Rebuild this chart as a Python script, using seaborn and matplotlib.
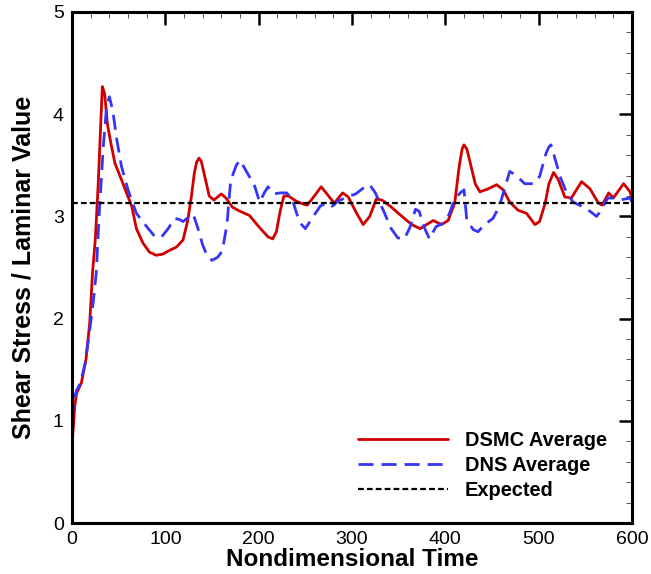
import numpy as np
import pandas as pd
import matplotlib
matplotlib.use("Agg")
import matplotlib.pyplot as plt
from matplotlib.ticker import MultipleLocator
import seaborn as sns

dsmc_t = [0, 3, 5, 10, 15, 19, 22, 25, 28, 32.5, 35, 38, 42, 46, 53, 58, 64, 69, 76, 83,
          90, 97, 105, 112, 119, 124, 128, 131, 133.5, 136, 138.5, 142.5, 147, 152, 160, 165, 172,
          180, 190, 201, 210, 215, 219, 223, 227, 232, 240, 248, 252, 258, 267, 274, 281,
          290, 296, 305, 312, 319, 326, 332, 341, 351, 360, 366, 373, 380, 387, 396, 403,
          410, 415, 418, 420, 423, 426, 432, 437, 446, 455, 462, 469, 478, 487, 496, 501, 507, 511,
          516, 521, 528, 535, 546, 555, 564, 568, 575, 580, 591, 598, 600]
dsmc_v = [0.75, 1.15, 1.27, 1.37, 1.6, 1.96, 2.45, 2.78, 3.3, 4.27, 4.2, 3.9, 3.7, 3.52,
          3.36, 3.24, 3.1, 2.88, 2.74, 2.65, 2.62, 2.63, 2.67, 2.7, 2.77, 2.96, 3.2, 3.42,
          3.53, 3.57, 3.54, 3.38, 3.2, 3.16, 3.22, 3.18, 3.09, 3.05, 3.01, 2.89, 2.80, 2.78, 2.85,
          3.05, 3.2, 3.2, 3.15, 3.12, 3.11, 3.18, 3.29, 3.21, 3.13, 3.23, 3.19, 3.03, 2.92,
          3.0, 3.17, 3.16, 3.10, 3.02, 2.95, 2.91, 2.88, 2.92, 2.96, 2.92, 2.96, 3.13, 3.5,
          3.66, 3.70, 3.66, 3.55, 3.32, 3.24, 3.27, 3.31, 3.26, 3.14, 3.06, 3.03, 2.92, 2.95, 3.13, 3.32,
          3.43, 3.36, 3.19, 3.18, 3.34, 3.27, 3.13, 3.11, 3.23, 3.18, 3.32, 3.24, 3.16]

dns_t = [0, 2, 5, 9, 14, 19, 23, 26, 29, 33.5, 37, 40, 43.6, 48, 53, 60, 69, 80, 89, 96,
         103, 110, 115, 119, 126, 130, 135, 140, 145, 150, 156, 161, 166, 170, 176, 180,
         190, 196, 201, 206, 210, 216, 223, 230, 236, 241, 246, 250, 257, 266, 272, 279,
         285, 295, 304, 314, 319, 325, 334, 342, 349, 356, 362, 368, 372, 377, 383, 390,
         397, 404, 410, 416, 420, 423, 430, 435, 442, 451, 458, 464, 469, 476, 485, 494,
         501, 508, 511, 513, 515, 517, 523, 530, 537, 546, 555, 562, 567, 574, 580, 587, 598, 600]
dns_v = [1.0, 1.2, 1.3, 1.37, 1.56, 1.89, 2.18, 2.45, 3.0, 3.68, 4.07, 4.17, 4.04, 3.75,
         3.49, 3.26, 3.03, 2.90, 2.80, 2.80, 2.88, 2.98, 2.97, 2.95, 3.0, 3.02, 2.88, 2.72,
         2.61, 2.57, 2.60, 2.66, 2.92, 3.35, 3.50, 3.55, 3.39, 3.29, 3.14, 3.23, 3.29, 3.22,
         3.23, 3.23, 3.17, 3.02, 2.92, 2.88, 2.98, 3.10, 3.13, 3.10, 3.15, 3.19, 3.22, 3.29,
         3.31, 3.23, 3.05, 2.88, 2.79, 2.78, 2.89, 3.07, 3.05, 2.90, 2.78, 2.90, 2.93, 3.02,
         3.17, 3.23, 3.26, 2.96, 2.87, 2.85, 2.92, 2.98, 3.10, 3.29, 3.44, 3.40, 3.32, 3.32,
         3.39, 3.62, 3.68, 3.70, 3.67, 3.58, 3.39, 3.23, 3.14, 3.10, 3.05, 3.00, 3.06, 3.18, 3.18, 3.16,
         3.18, 3.14]

expected_t = [0, 600]
expected_v = [3.13, 3.13]

labels = ["DSMC Average", "DNS Average", "Expected"]
x_ticks = [0, 100, 200, 300, 400, 500, 600]
y_ticks = [0, 1, 2, 3, 4, 5]

sns.set_theme(style="white")
plt.rcParams['font.family'] = ['Liberation Sans', 'DejaVu Sans']
plt.rcParams['text.color'] = 'black'
plt.rcParams['axes.labelcolor'] = 'black'
plt.rcParams['xtick.color'] = 'black'
plt.rcParams['ytick.color'] = 'black'

fig = plt.figure(figsize=(6.51, 5.74), dpi=100)
ax = fig.add_axes([72/651, 51/574, 560/651, 511/574])

df_dsmc = pd.DataFrame({"t": dsmc_t, "v": dsmc_v})
df_dns = pd.DataFrame({"t": dns_t, "v": dns_v})
df_exp = pd.DataFrame({"t": expected_t, "v": expected_v})

sns.lineplot(data=df_dsmc, x="t", y="v", ax=ax, color="#D00000", lw=2.0,
             label=labels[0], sort=False, estimator=None)
sns.lineplot(data=df_dns, x="t", y="v", ax=ax, color="#3535F5", lw=2.0,
             label=labels[1], sort=False, estimator=None)
ax.lines[-1].set_dashes((5.4, 2.9))
sns.lineplot(data=df_exp, x="t", y="v", ax=ax, color="black", lw=1.6,
             label=labels[2], sort=False, estimator=None)
ax.lines[-1].set_dashes((2.6, 1.4))

ax.set_xlim(0, 600)
ax.set_ylim(0, 5)
ax.set_xticks(x_ticks)
ax.set_yticks(y_ticks)
ax.xaxis.set_minor_locator(MultipleLocator(20))
ax.yaxis.set_minor_locator(MultipleLocator(0.2))
ax.tick_params(which="major", direction="in", length=9.5, width=1.8, top=True, right=True,
               labelsize=14, colors="black", pad=6)
ax.tick_params(which="minor", direction="in", length=4.5, width=0.7, top=True, right=True,
               color="#555555")
for s in ax.spines.values():
    s.set_linewidth(2.2)
    s.set_color("black")

ax.set_xlabel("Nondimensional Time", fontsize=17.5, fontweight="bold", labelpad=0)
ax.set_ylabel("Shear Stress / Laminar Value", fontsize=18, fontweight="bold", labelpad=12)

leg = ax.legend(loc="center left", bbox_to_anchor=(0.51, 0.112), frameon=False,
                handlelength=4.5, handletextpad=0.85, labelspacing=0.3,
                borderpad=0, borderaxespad=0, prop={"weight": "bold", "size": 14.4})
for t in leg.get_texts():
    t.set_color("black")

fig.savefig("out.png", dpi=100)
